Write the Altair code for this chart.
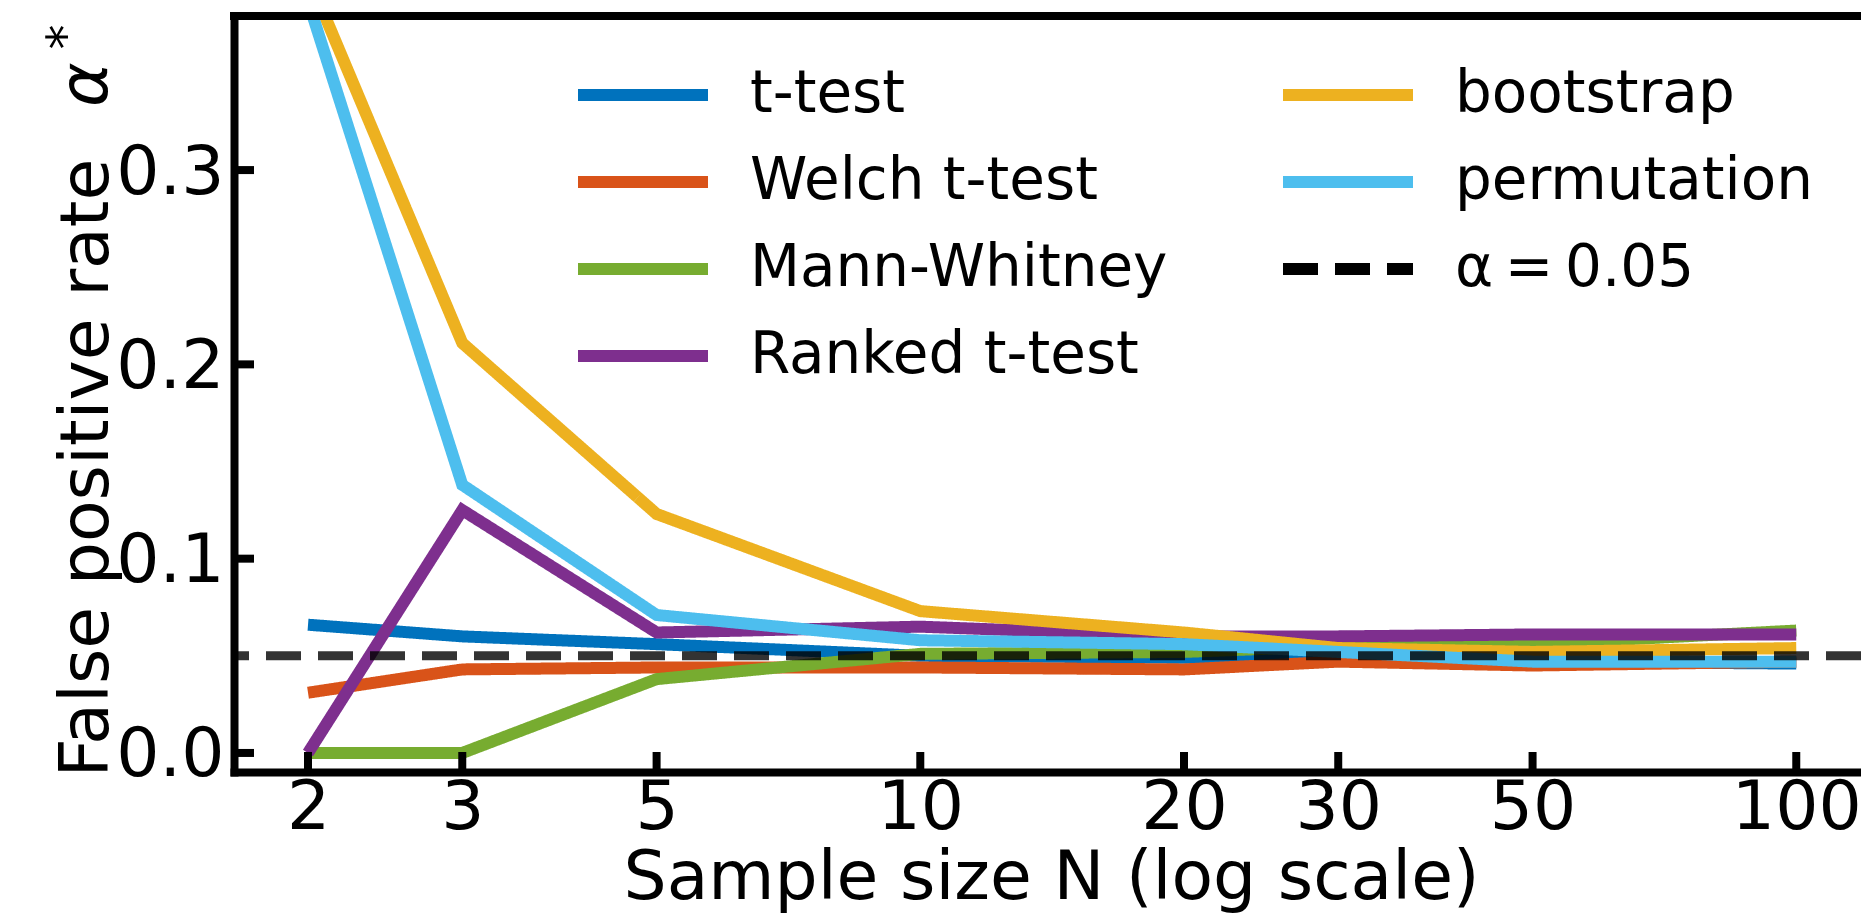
import altair as alt
import pandas as pd

# ---------------- data ----------------
N = [2, 3, 5, 10, 20, 30, 50, 100]
t_test = [0.066, 0.060, 0.056, 0.050, 0.049, 0.048, 0.047, 0.046]
welch = [0.031, 0.043, 0.044, 0.044, 0.043, 0.047, 0.045, 0.047]
mann_whitney = [0.0, 0.0, 0.038, 0.051, 0.052, 0.055, 0.056, 0.063]
ranked = [0.0, 0.125, 0.062, 0.065, 0.060, 0.060, 0.061, 0.061]
bootstrap = [0.400, 0.211, 0.123, 0.073, 0.062, 0.054, 0.052, 0.054]
permutation = [0.387, 0.138, 0.071, 0.058, 0.056, 0.052, 0.047, 0.047]
alpha_level = 0.05

x_ticks = [2, 3, 5, 10, 20, 30, 50, 100]
y_ticks = [0.0, 0.1, 0.2, 0.3]

ALPHA_LABEL = "\u03b1\u2009=\u20090.05"
series = {
    "t-test": t_test,
    "Welch t-test": welch,
    "Mann-Whitney": mann_whitney,
    "Ranked t-test": ranked,
    "bootstrap": bootstrap,
    "permutation": permutation,
}
draw_order = ["t-test", "Welch t-test", "Mann-Whitney", "Ranked t-test", "bootstrap", "permutation"]
legend_order = draw_order + [ALPHA_LABEL]
colors = {
    "t-test": "#0072BD",
    "Welch t-test": "#D95319",
    "Mann-Whitney": "#77AC30",
    "Ranked t-test": "#7E2F8E",
    "bootstrap": "#EDB120",
    "permutation": "#4DBEEE",
    ALPHA_LABEL: "#000000",
}
dashes = {m: [1, 0] for m in draw_order}
dashes[ALPHA_LABEL] = [35, 17]

# ---------------- layout ----------------
PLOT_W = 1627
PLOT_H = 756
X_MIN, X_MAX = 1.6464, 118.55
Y_MIN, Y_MAX = -0.0098, 0.3793
FONT = "DejaVu Sans"

rows = []
for m in draw_order:
    for n, v in zip(N, series[m]):
        rows.append({"method": m, "N": n, "rate": v})
df = pd.DataFrame(rows)
alpha_df = pd.DataFrame({"method": [ALPHA_LABEL], "rate": [alpha_level]})
xt_df = pd.DataFrame({"N": x_ticks})
yt_df = pd.DataFrame({"rate": y_ticks})
one = pd.DataFrame({"k": [0]})

x_axis = alt.Axis(values=x_ticks, format="d", title="Sample size N (log scale)",
                  labelPadding=2, titleX=817, titleY=126, titleBaseline="alphabetic",
                  titleAlign="center")
y_axis = alt.Axis(values=y_ticks, format=".1f", title="False positive rate",
                  labelPadding=10, labelOffset=3, titleAngle=270, titleAlign="left",
                  titleBaseline="alphabetic", titleX=-127, titleY=761)
X = alt.X("N:Q", scale=alt.Scale(type="log", domain=[X_MIN, X_MAX], nice=False), axis=x_axis)
Y = alt.Y("rate:Q", scale=alt.Scale(domain=[Y_MIN, Y_MAX], nice=False, zero=False), axis=y_axis)

legend = alt.Legend(title=None, orient="none", legendX=338, legendY=49, columns=2,
                    symbolType="stroke", symbolSize=16900, symbolStrokeWidth=12,
                    symbolOpacity=1,
                    clipHeight=60, rowPadding=27, columnPadding=109, labelOffset=36,
                    labelFont=FONT, labelFontSize=58, labelColor="black", labelLimit=2000,
                    padding=0)
COLOR = alt.Color("method:N", scale=alt.Scale(domain=legend_order,
                                              range=[colors[m] for m in legend_order]),
                  legend=legend)
DASH = alt.StrokeDash("method:N", scale=alt.Scale(domain=legend_order,
                                                  range=[dashes[m] for m in legend_order]),
                      legend=legend)

layers = []
for m in draw_order:
    layers.append(
        alt.Chart(df).transform_filter(alt.datum.method == m)
        .mark_line(strokeWidth=12, clip=True, strokeCap="butt", strokeJoin="miter")
        .encode(x=X, y=Y, color=COLOR, strokeDash=DASH)
    )

alpha_rule = alt.Chart(alpha_df).mark_rule(strokeWidth=9, opacity=0.8).encode(
    y=Y, color=COLOR, strokeDash=DASH)

x_tick_marks = alt.Chart(xt_df).mark_rule(color="black", strokeWidth=8).encode(
    x=X, y=alt.value(PLOT_H), y2=alt.value(PLOT_H - 20))
y_tick_marks = alt.Chart(yt_df).mark_rule(color="black", strokeWidth=8).encode(
    y=Y, x=alt.value(0), x2=alt.value(20))
top_spine = alt.Chart(one).mark_rule(color="black", strokeWidth=8).encode(
    x=alt.value(-4), x2=alt.value(PLOT_W), y=alt.value(0))

alpha_text = alt.Chart(one).mark_text(
    text="\u03b1", font=FONT, fontSize=68, fontStyle="italic", angle=270,
    align="left", baseline="alphabetic", color="black").encode(
    x=alt.value(-127), y=alt.value(91))
star_text = alt.Chart(one).mark_text(
    text="*", font=FONT, fontSize=50, angle=270,
    align="center", baseline="alphabetic", color="black").encode(
    x=alt.value(-152), y=alt.value(21))

chart = alt.layer(*layers, alpha_rule, x_tick_marks, y_tick_marks, top_spine,
                  alpha_text, star_text).properties(
    width=PLOT_W, height=PLOT_H,
    padding={"left": 234, "top": 16, "right": 0, "bottom": 141},
    autosize=alt.AutoSizeParams(type="none"),
    background="white",
).configure_view(strokeWidth=0).configure_axis(
    domainColor="black", domainWidth=8, domainCap="square",
    ticks=False, tickSize=0, grid=False,
    labelFont=FONT, labelFontSize=68, labelColor="black",
    titleFont=FONT, titleFontSize=68, titleFontWeight="normal", titleColor="black",
)

chart.save("out.html", embed_options={"renderer": "svg", "actions": False})
